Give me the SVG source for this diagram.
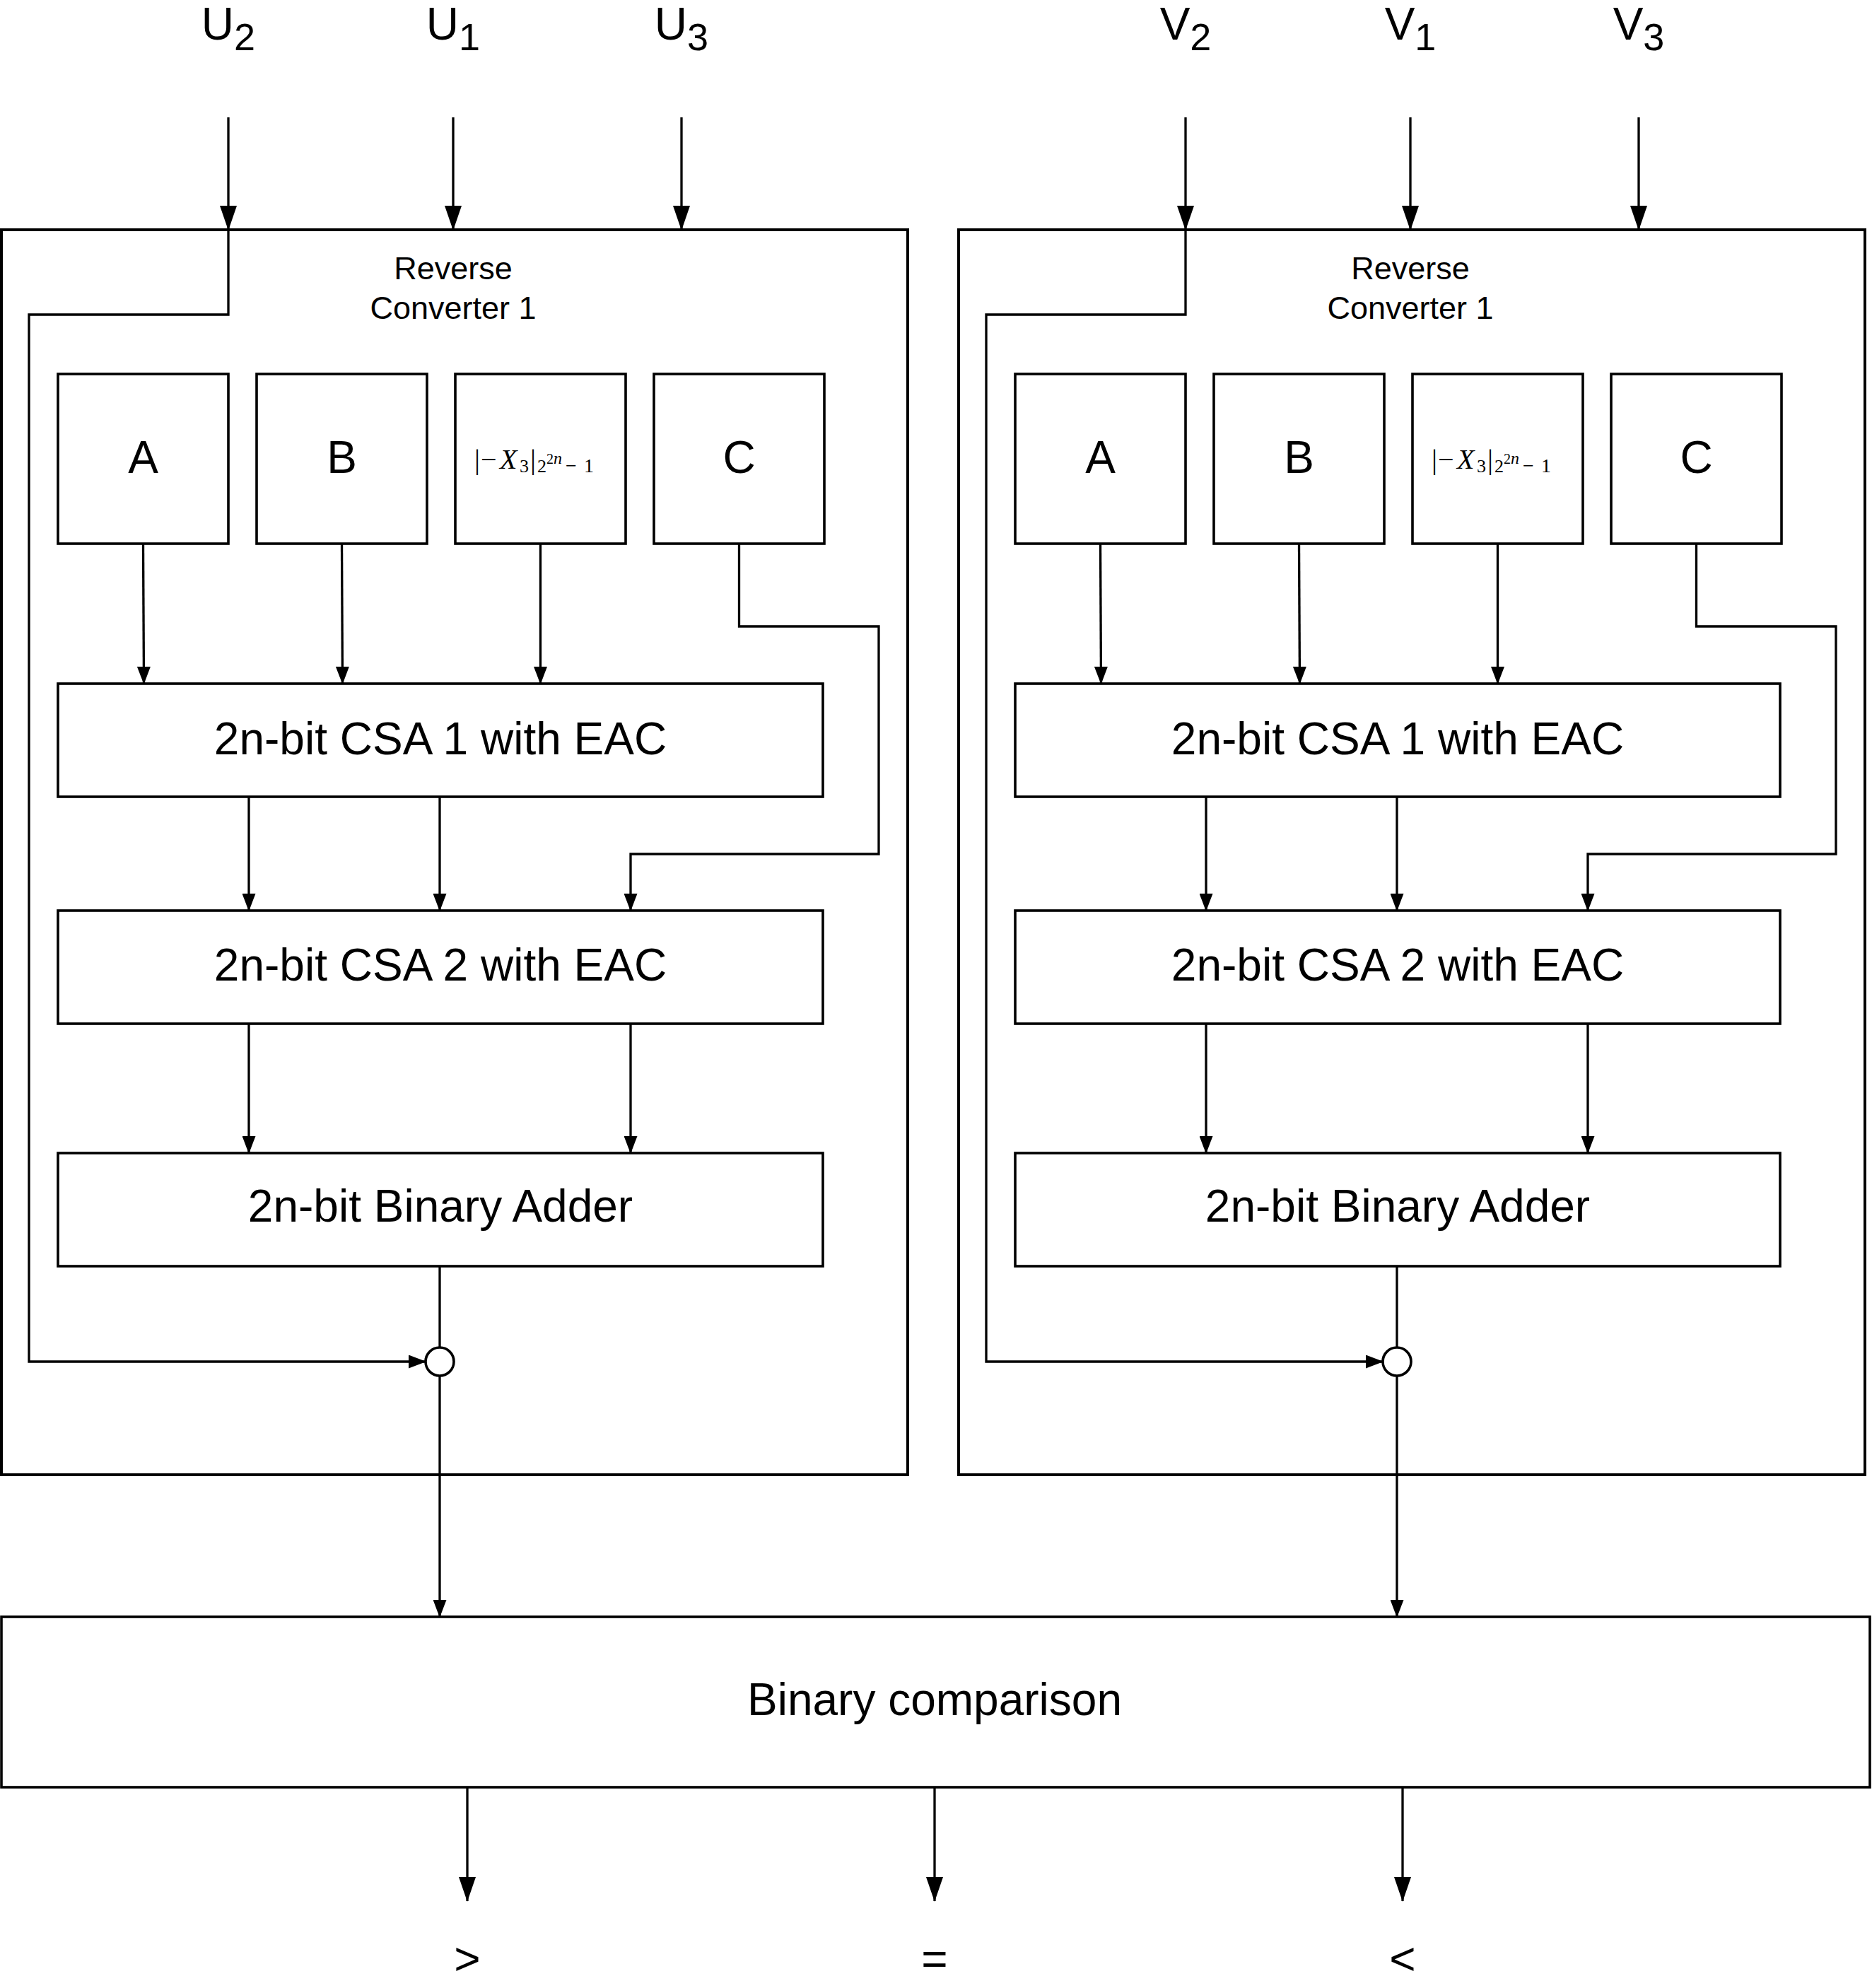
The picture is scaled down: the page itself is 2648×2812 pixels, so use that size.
<svg xmlns="http://www.w3.org/2000/svg" width="2648" height="2812" viewBox="0 0 2648 2812">
<defs>
<style>
.outer{fill:none;stroke:#000;stroke-width:4}
.box{fill:#fff;stroke:#000;stroke-width:3.6}
.cn{fill:none;stroke:#000;stroke-width:3.3}
.arr{marker-end:url(#ah)}
.arrL{marker-end:url(#ahL)}
.t{font-family:"Liberation Sans",Arial,Helvetica,sans-serif;fill:#000;text-anchor:middle}
.big{font-size:64px}
.mid{font-size:45px}
.m{font-family:"Liberation Serif","Times New Roman",serif;fill:#000}
</style>
<marker id="ah" markerUnits="userSpaceOnUse" markerWidth="25" markerHeight="19" refX="24" refY="9.5" orient="auto">
<path d="M0,0 L25,9.5 L0,19 Z" fill="#000"/>
</marker>
<marker id="ahL" markerUnits="userSpaceOnUse" markerWidth="35" markerHeight="24" refX="34" refY="12" orient="auto">
<path d="M0,0 L35,12 L0,24 Z" fill="#000"/>
</marker>
</defs>
<rect width="2648" height="2812" fill="#fff"/>

<g id="labels-in">
<text class="t big" x="323" y="56">U<tspan font-size="54" dy="15">2</tspan></text>
<text class="t big" x="641" y="56">U<tspan font-size="54" dy="15">1</tspan></text>
<text class="t big" x="964" y="56">U<tspan font-size="54" dy="15">3</tspan></text>
<text class="t big" x="1677" y="56">V<tspan font-size="54" dy="15">2</tspan></text>
<text class="t big" x="1995" y="56">V<tspan font-size="54" dy="15">1</tspan></text>
<text class="t big" x="2318" y="56">V<tspan font-size="54" dy="15">3</tspan></text>
</g>

<g id="converter-left">
<rect class="outer" x="2" y="325" width="1282" height="1761"/>
<text class="t mid" x="641" y="395">Reverse</text>
<text class="t mid" x="641" y="451">Converter 1</text>
</g>
<g id="converter-right">
<rect class="outer" x="1356" y="325" width="1282" height="1761"/>
<text class="t mid" x="1995" y="395">Reverse</text>
<text class="t mid" x="1995" y="451">Converter 1</text>
</g>

<g id="left-A"><rect class="box" x="82" y="529" width="241" height="240"/><text class="t big" x="202.5" y="669">A</text></g>
<g id="left-B"><rect class="box" x="363" y="529" width="241" height="240"/><text class="t big" x="483.5" y="669">B</text></g>
<g id="left-X3"><rect class="box" x="644" y="529" width="241" height="240"/>
<text class="m" y="663"><tspan x="671" font-size="40">|</tspan><tspan x="680" font-size="40">−</tspan><tspan x="707" font-size="40" font-style="italic">X</tspan><tspan x="735" y="668" font-size="26">3</tspan><tspan x="750" y="663" font-size="40">|</tspan><tspan x="760" y="668" font-size="26">2</tspan><tspan x="773" y="656" font-size="20">2</tspan><tspan x="783" y="656" font-size="24" font-style="italic">n</tspan><tspan x="800" y="668" font-size="28">−</tspan><tspan x="826" y="668" font-size="28">1</tspan></text>
</g>
<g id="left-C"><rect class="box" x="925" y="529" width="241" height="240"/><text class="t big" x="1045.5" y="669">C</text></g>
<g id="left-CSA1"><rect class="box" x="82" y="967" width="1082" height="160"/><text class="t big" x="623" y="1067">2n-bit CSA 1 with EAC</text></g>
<g id="left-CSA2"><rect class="box" x="82" y="1288" width="1082" height="160"/><text class="t big" x="623" y="1387">2n-bit CSA 2 with EAC</text></g>
<g id="left-adder"><rect class="box" x="82" y="1631" width="1082" height="160"/><text class="t big" x="623" y="1728">2n-bit Binary Adder</text></g>
<g id="left-join"><circle class="box" cx="622" cy="1926" r="20"/></g>

<g id="right-A"><rect class="box" x="1436" y="529" width="241" height="240"/><text class="t big" x="1556.5" y="669">A</text></g>
<g id="right-B"><rect class="box" x="1717" y="529" width="241" height="240"/><text class="t big" x="1837.5" y="669">B</text></g>
<g id="right-X3"><rect class="box" x="1998" y="529" width="241" height="240"/>
<text class="m" y="663"><tspan x="2025" font-size="40">|</tspan><tspan x="2034" font-size="40">−</tspan><tspan x="2061" font-size="40" font-style="italic">X</tspan><tspan x="2089" y="668" font-size="26">3</tspan><tspan x="2104" y="663" font-size="40">|</tspan><tspan x="2114" y="668" font-size="26">2</tspan><tspan x="2127" y="656" font-size="20">2</tspan><tspan x="2137" y="656" font-size="24" font-style="italic">n</tspan><tspan x="2154" y="668" font-size="28">−</tspan><tspan x="2180" y="668" font-size="28">1</tspan></text>
</g>
<g id="right-C"><rect class="box" x="2279" y="529" width="241" height="240"/><text class="t big" x="2399.5" y="669">C</text></g>
<g id="right-CSA1"><rect class="box" x="1436" y="967" width="1082" height="160"/><text class="t big" x="1977" y="1067">2n-bit CSA 1 with EAC</text></g>
<g id="right-CSA2"><rect class="box" x="1436" y="1288" width="1082" height="160"/><text class="t big" x="1977" y="1387">2n-bit CSA 2 with EAC</text></g>
<g id="right-adder"><rect class="box" x="1436" y="1631" width="1082" height="160"/><text class="t big" x="1977" y="1728">2n-bit Binary Adder</text></g>
<g id="right-join"><circle class="box" cx="1976" cy="1926" r="20"/></g>

<g id="comparison"><rect class="box" x="2" y="2287" width="2643" height="241"/><text class="t big" x="1322" y="2426">Binary comparison</text></g>

<g id="labels-out">
<text class="t big" x="661" y="2793">&gt;</text>
<text class="t big" x="1322" y="2793">=</text>
<text class="t big" x="1984" y="2793">&lt;</text>
</g>

<g id="connectors">
<path class="cn arrL" d="M323,166 V325"/>
<path class="cn arrL" d="M641,166 V325"/>
<path class="cn arrL" d="M964,166 V325"/>
<path class="cn arrL" d="M1677,166 V325"/>
<path class="cn arrL" d="M1995,166 V325"/>
<path class="cn arrL" d="M2318,166 V325"/>
<path class="cn arr" d="M323,325 V445 H41 V1926 H602"/>
<path class="cn arr" d="M202.5,769 L203.5,967"/>
<path class="cn arr" d="M483.5,769 L484.5,967"/>
<path class="cn arr" d="M764.5,769 V967"/>
<path class="cn arr" d="M1045.5,769 V886 H1243 V1208 H892 V1288"/>
<path class="cn arr" d="M352,1127 V1288"/>
<path class="cn arr" d="M622,1127 V1288"/>
<path class="cn arr" d="M352,1448 V1631"/>
<path class="cn arr" d="M892,1448 V1631"/>
<path class="cn" d="M622,1791 V1906"/>
<path class="cn arr" d="M622,1946 V2287"/>
<path class="cn arr" d="M1677,325 V445 H1395 V1926 H1956"/>
<path class="cn arr" d="M1556.5,769 L1557.5,967"/>
<path class="cn arr" d="M1837.5,769 L1838.5,967"/>
<path class="cn arr" d="M2118.5,769 V967"/>
<path class="cn arr" d="M2399.5,769 V886 H2597 V1208 H2246 V1288"/>
<path class="cn arr" d="M1706,1127 V1288"/>
<path class="cn arr" d="M1976,1127 V1288"/>
<path class="cn arr" d="M1706,1448 V1631"/>
<path class="cn arr" d="M2246,1448 V1631"/>
<path class="cn" d="M1976,1791 V1906"/>
<path class="cn arr" d="M1976,1946 V2287"/>
<path class="cn arrL" d="M661,2528 V2689"/>
<path class="cn arrL" d="M1322,2528 V2689"/>
<path class="cn arrL" d="M1984,2528 V2689"/>
</g>
</svg>
